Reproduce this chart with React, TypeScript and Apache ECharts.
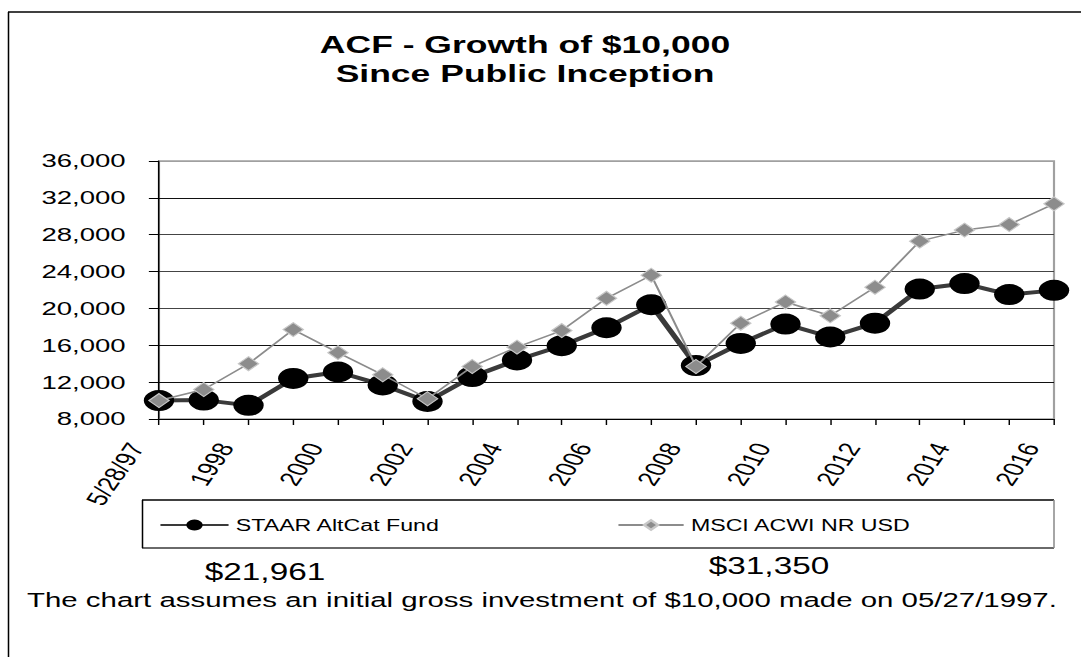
import React, { useEffect, useRef } from 'react';
import * as echarts from 'echarts';

const categories = ['5/28/97', '1997', '1998', '1999', '2000', '2001', '2002', '2003', '2004', '2005', '2006', '2007', '2008', '2009', '2010', '2011', '2012', '2013', '2014', '2015', '2016'];
const staarValues = [10000, 10050, 9480, 12400, 13100, 11700, 9900, 12600, 14400, 15950, 17900, 20400, 13800, 16200, 18300, 16900, 18400, 22100, 22700, 21500, 21961];
const msciValues = [10000, 11200, 14000, 17700, 15200, 12800, 10200, 13700, 15800, 17600, 21100, 23600, 13700, 18400, 20700, 19200, 22300, 27300, 28500, 29100, 31350];
const yMin = 8000;
const yMax = 36000;
const yInterval = 4000;
const seriesNames = ['STAAR AltCat Fund', 'MSCI ACWI NR USD'];
const endingValues = ['$21,961', '$31,350'];
const titleLines = ['ACF - Growth of $10,000', 'Since Public Inception'];
const footnote = 'The chart assumes an initial gross investment of $10,000 made on 05/27/1997.';

const W = 746;
const H = 657;
const S = 1081 / W;
const FONT = "'Liberation Sans', Arial, Helvetica, sans-serif";
const FX = (x: number) => x / S;

export default function App() {
  const ref = useRef<HTMLDivElement>(null);
  useEffect(() => {
    const chart = echarts.init(ref.current!, null, { renderer: 'svg' });
    chart.setOption({
      animation: false,
      backgroundColor: '#ffffff',
      grid: {
        left: FX(159),
        right: W - FX(1054),
        top: 161,
        bottom: H - 419,
        show: true,
        borderColor: '#a0a0a0',
        borderWidth: 1.5,
        backgroundColor: 'transparent',
      },
      xAxis: {
        type: 'category',
        data: categories,
        boundaryGap: false,
        axisLine: { show: true, lineStyle: { color: '#000', width: 1 } },
        axisTick: { show: true, interval: 0, length: 6, lineStyle: { color: '#000', width: 1 } },
        axisLabel: {
          interval: 1,
          rotate: 64,
          fontSize: 20,
          color: '#000',
          fontFamily: FONT,
          margin: 15,
          align: 'right',
          verticalAlign: 'bottom',
          padding: [0, 16, 0, 0],
        },
        splitLine: { show: false },
      },
      yAxis: {
        type: 'value',
        min: yMin,
        max: yMax,
        interval: yInterval,
        axisLine: { show: true, lineStyle: { color: '#000', width: 1 } },
        axisTick: { show: true, length: 7, lineStyle: { color: '#000', width: 1 } },
        axisLabel: {
          formatter: (v: number) => v.toLocaleString('en-US'),
          fontSize: 19,
          color: '#000',
          fontFamily: FONT,
          margin: 23,
        },
        splitLine: {
          show: true,
          lineStyle: { color: ['#000', '#111', '#111', '#444', '#444', '#444', '#111', '#a0a0a0'], width: 1 },
        },
      },
      legend: [
        {
          data: [seriesNames[0]],
          left: FX(159),
          top: 517,
          padding: 0,
          itemWidth: 47,
          itemHeight: 14,
          textStyle: { fontSize: 16, color: '#000', fontFamily: FONT },
        },
        {
          data: [seriesNames[1]],
          left: FX(617),
          top: 517,
          padding: 0,
          itemWidth: 45,
          itemHeight: 12,
          textStyle: { fontSize: 16, color: '#000', fontFamily: FONT },
        },
      ],
      series: [
        {
          name: seriesNames[0],
          type: 'line',
          data: staarValues,
          symbol: 'circle',
          symbolSize: 21,
          showAllSymbol: true,
          lineStyle: { color: '#3a3a3a', width: 4 },
          itemStyle: { color: '#000' },
          z: 2,
        },
        {
          name: seriesNames[1],
          type: 'line',
          data: msciValues,
          symbol: 'diamond',
          symbolSize: 14,
          showAllSymbol: true,
          lineStyle: { color: '#8c8c8c', width: 1.5 },
          itemStyle: { color: '#8c8c8c', borderColor: '#c8c8c8', borderWidth: 1 },
          z: 3,
        },
      ],
      graphic: [
        { type: 'line', shape: { x1: FX(8), y1: 12, x2: W + 20, y2: 12 }, style: { stroke: '#000', lineWidth: 1.5 } },
        { type: 'line', shape: { x1: FX(8.5), y1: 12, x2: FX(8.5), y2: H + 20 }, style: { stroke: '#000', lineWidth: 1.05 } },
        { type: 'line', shape: { x1: FX(142), y1: 500, x2: FX(1054), y2: 500 }, style: { stroke: '#000', lineWidth: 1.5 } },
        { type: 'line', shape: { x1: FX(142), y1: 548, x2: FX(1054), y2: 548 }, style: { stroke: '#6a6a6a', lineWidth: 2 } },
        { type: 'line', shape: { x1: FX(142.5), y1: 500, x2: FX(142.5), y2: 548 }, style: { stroke: '#000', lineWidth: 1.05 } },
        { type: 'line', shape: { x1: FX(1054), y1: 500, x2: FX(1054), y2: 548 }, style: { stroke: '#8a8a8a', lineWidth: 1.05 } },
        {
          type: 'text', x: FX(525), y: 44,
          style: { text: titleLines[0], fontSize: 24.5, fontWeight: 'bold', fontFamily: FONT, fill: '#000', align: 'center', verticalAlign: 'middle' },
        },
        {
          type: 'text', x: FX(525), y: 73.5,
          style: { text: titleLines[1], fontSize: 24.5, fontWeight: 'bold', fontFamily: FONT, fill: '#000', align: 'center', verticalAlign: 'middle' },
        },
        {
          type: 'text', x: FX(265), y: 572,
          style: { text: endingValues[0], fontSize: 23, fontFamily: FONT, fill: '#000', align: 'center', verticalAlign: 'middle' },
        },
        {
          type: 'text', x: FX(769), y: 566,
          style: { text: endingValues[1], fontSize: 23, fontFamily: FONT, fill: '#000', align: 'center', verticalAlign: 'middle' },
        },
        {
          type: 'text', x: FX(27), y: 600,
          style: { text: footnote, fontSize: 20.3, fontFamily: FONT, fill: '#000', align: 'left', verticalAlign: 'middle' },
        },
      ],
    });
    return () => chart.dispose();
  }, []);
  return (
    <div
      ref={ref}
      style={{
        position: 'absolute',
        left: 0,
        top: 0,
        width: W,
        height: H,
        transform: `scaleX(${S})`,
        transformOrigin: '0 0',
        background: '#fff',
      }}
    />
  );
}
